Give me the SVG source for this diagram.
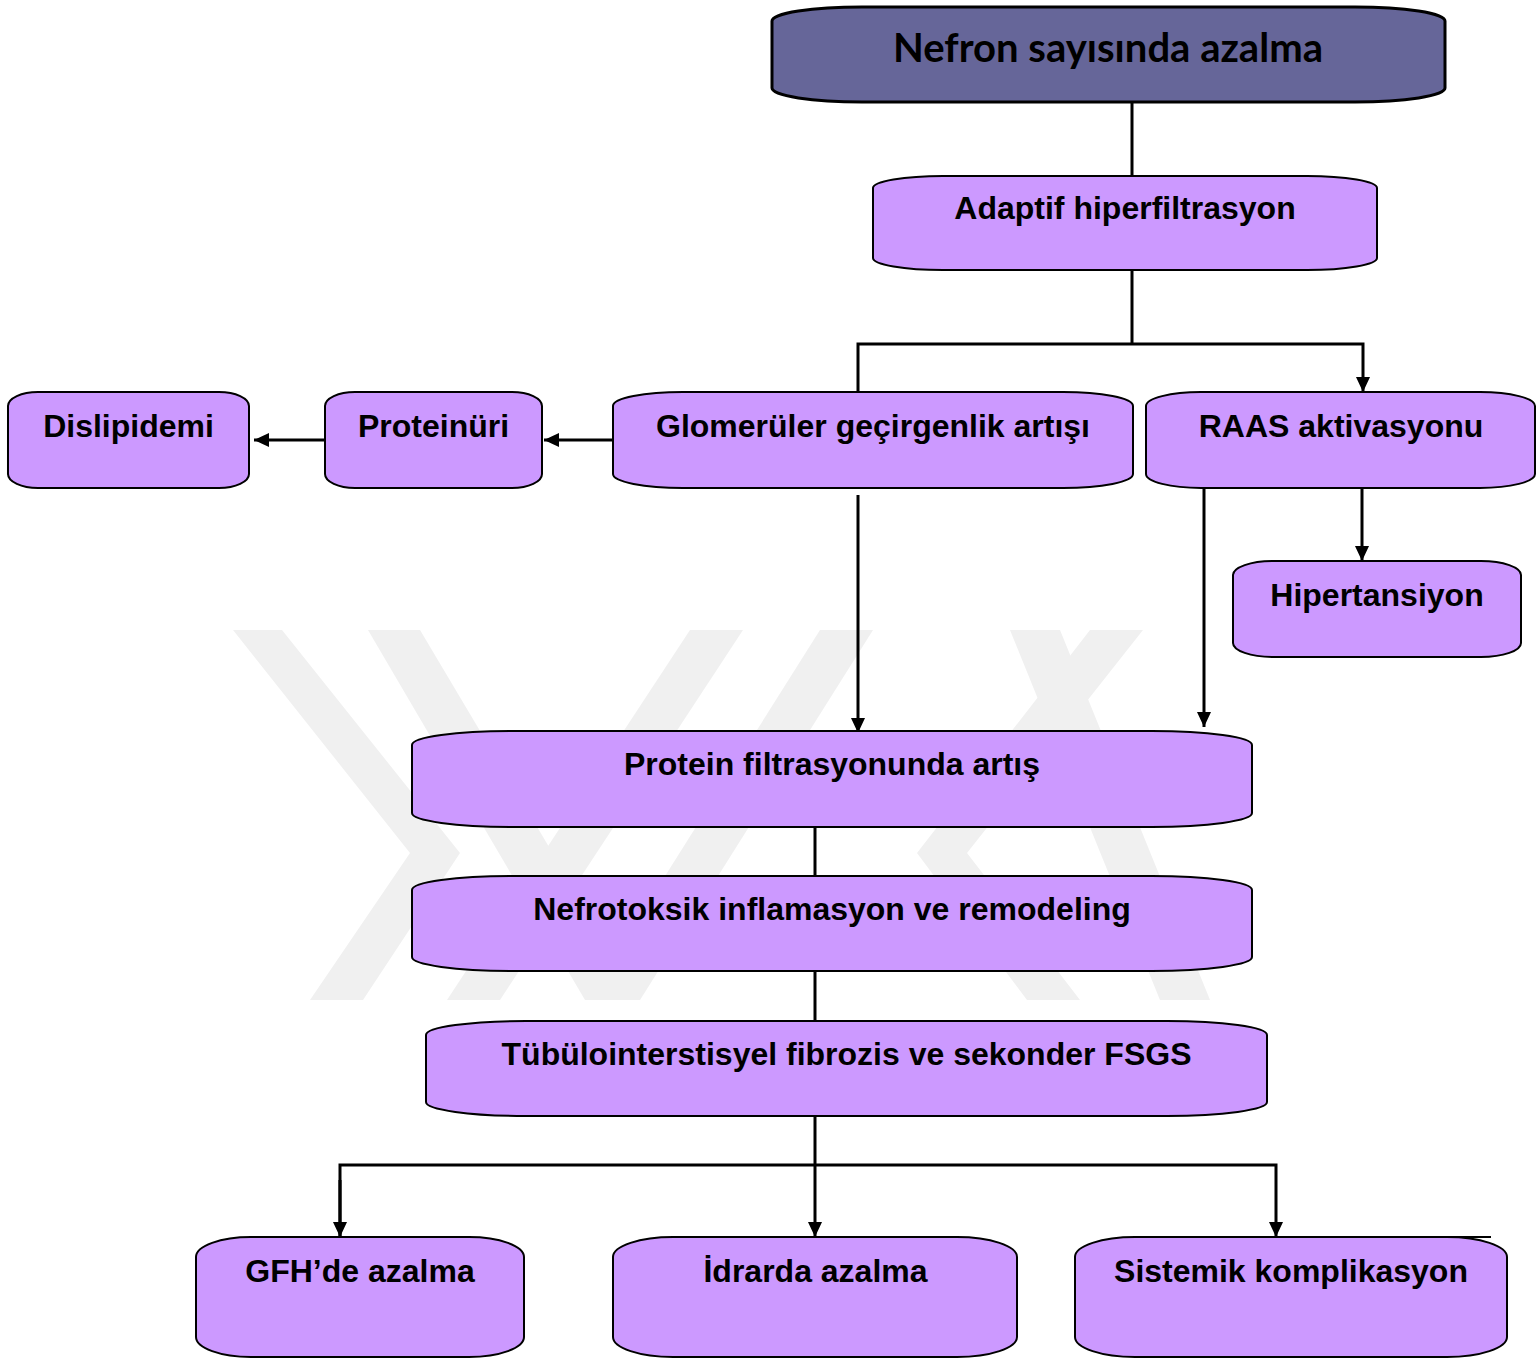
<svg xmlns="http://www.w3.org/2000/svg" width="1536" height="1362" viewBox="0 0 1536 1362">
<style>
.box{fill:#cc99ff;stroke:#000;stroke-width:2}
.top{fill:#666699;stroke:#000;stroke-width:3}
.lbl{font-family:"Liberation Sans",Arial,sans-serif;font-weight:bold;font-size:32px;fill:#000;text-anchor:middle}
.ttl{font-family:Lato,"Open Sans",sans-serif;font-weight:bold;font-size:40px;fill:#000;text-anchor:middle}
.ln{fill:none;stroke:#000;stroke-width:3}
.wm{fill:#f0f0f0}
</style>
<defs>
<marker id="ah" markerUnits="userSpaceOnUse" markerWidth="16" markerHeight="14" refX="15" refY="7" orient="auto">
<path d="M0,0 L15,7 L0,14 z" fill="#000"/>
</marker>
</defs>
<rect width="1536" height="1362" fill="#fff"/>
<g id="watermark">
<polygon class="wm" points="233,630 282,630 460,853 363,1000 310,1000 410,853"/>
<polygon class="wm" points="368,630 420,630 640,1000 585,1000"/>
<polygon class="wm" points="690,630 743,630 500,1000 447,1000"/>
<polygon class="wm" points="820,630 873,630 640,1000 587,1000"/>
<polygon class="wm" points="1090,630 1143,630 967,853 1080,1000 1027,1000 917,853"/>
<polygon class="wm" points="1010,630 1060,630 1210,1000 1160,1000"/>
</g>
<g id="connectors">
<line class="ln" x1="1132" y1="102" x2="1132" y2="176"/>
<polyline class="ln" points="1132,270 1132,344"/>
<polyline class="ln" points="858,392 858,344 1363,344 1363,392" marker-end="url(#ah)"/>
<line class="ln" x1="613" y1="440" x2="544" y2="440" marker-end="url(#ah)"/>
<line class="ln" x1="325" y1="440" x2="254" y2="440" marker-end="url(#ah)"/>
<line class="ln" x1="858" y1="495" x2="858" y2="733" marker-end="url(#ah)"/>
<line class="ln" x1="1204" y1="488" x2="1204" y2="727" marker-end="url(#ah)"/>
<line class="ln" x1="1362" y1="488" x2="1362" y2="561" marker-end="url(#ah)"/>
<line class="ln" x1="815" y1="827" x2="815" y2="876"/>
<line class="ln" x1="815" y1="971" x2="815" y2="1021"/>
<line class="ln" x1="815" y1="1116" x2="815" y2="1237" marker-end="url(#ah)"/>
<polyline class="ln" points="340,1237 340,1165 1276,1165 1276,1237" marker-end="url(#ah)"/>
<line class="ln" x1="340" y1="1180" x2="340" y2="1237" marker-end="url(#ah)"/>
<line x1="1435" y1="1237" x2="1491" y2="1237" stroke="#000" stroke-width="2"/>
</g>
<g id="n-nefron"><rect class="top" x="772" y="7" width="673" height="95" rx="90" ry="14"/><text class="ttl" x="1108" y="62" textLength="430" lengthAdjust="spacingAndGlyphs">Nefron sayısında azalma</text></g>
<g id="n-adaptif"><rect class="box" x="873" y="176" width="504" height="94" rx="70" ry="12"/><text class="lbl" x="1125" y="219">Adaptif hiperfiltrasyon</text></g>
<g id="n-dislipidemi"><rect class="box" x="8" y="392" width="241" height="96" rx="30" ry="14"/><text class="lbl" x="128.5" y="437">Dislipidemi</text></g>
<g id="n-proteinuri"><rect class="box" x="325" y="392" width="217" height="96" rx="30" ry="14"/><text class="lbl" x="433.5" y="437">Proteinüri</text></g>
<g id="n-glomeruler"><rect class="box" x="613" y="392" width="520" height="96" rx="70" ry="14"/><text class="lbl" x="873" y="437">Glomerüler geçirgenlik artışı</text></g>
<g id="n-raas"><rect class="box" x="1146" y="392" width="389" height="96" rx="55" ry="14"/><text class="lbl" x="1341" y="437">RAAS aktivasyonu</text></g>
<g id="n-hipertansiyon"><rect class="box" x="1233" y="561" width="288" height="96" rx="40" ry="14"/><text class="lbl" x="1377" y="606">Hipertansiyon</text></g>
<g id="n-protein"><rect class="box" x="412" y="731" width="840" height="96" rx="100" ry="14"/><text class="lbl" x="832" y="775">Protein filtrasyonunda artış</text></g>
<g id="n-nefrotoksik"><rect class="box" x="412" y="876" width="840" height="95" rx="100" ry="14"/><text class="lbl" x="832" y="920">Nefrotoksik inflamasyon ve remodeling</text></g>
<g id="n-tubulo"><rect class="box" x="426" y="1021" width="841" height="95" rx="100" ry="14"/><text class="lbl" x="846.5" y="1065">Tübülointerstisyel fibrozis ve sekonder FSGS</text></g>
<g id="n-gfh"><rect class="box" x="196" y="1237" width="328" height="120" rx="55" ry="20"/><text class="lbl" x="360" y="1282">GFH’de azalma</text></g>
<g id="n-idrarda"><rect class="box" x="613" y="1237" width="404" height="120" rx="60" ry="20"/><text class="lbl" x="815.5" y="1282">İdrarda azalma</text></g>
<g id="n-sistemik"><rect class="box" x="1075" y="1237" width="432" height="120" rx="60" ry="20"/><text class="lbl" x="1291" y="1282">Sistemik komplikasyon</text></g>
</svg>
